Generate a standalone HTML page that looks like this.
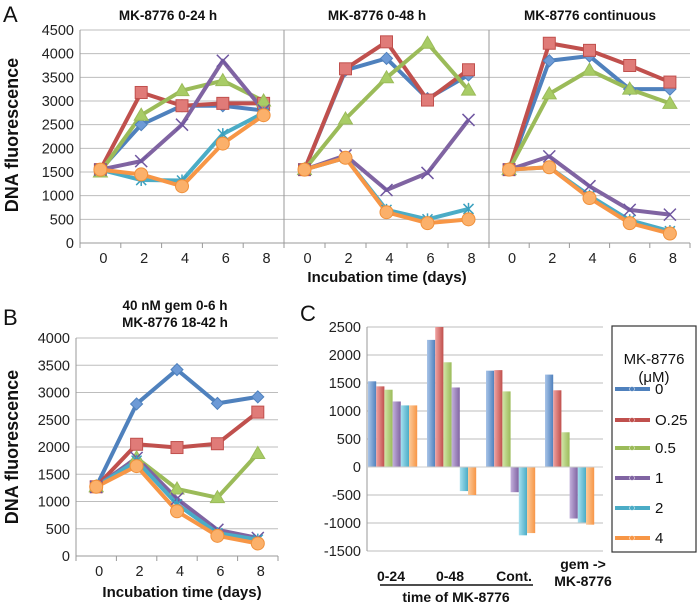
<!DOCTYPE html>
<html><head><meta charset="utf-8"><style>
body{margin:0;background:#fff}
svg{display:block;font-family:"Liberation Sans",sans-serif}
</style></head><body>
<svg id="fig" width="700" height="609" viewBox="0 0 700 609" xmlns="http://www.w3.org/2000/svg">
<defs>
<linearGradient id="g0" x1="0" x2="1"><stop offset="0" stop-color="#a9c4e8"/><stop offset="1" stop-color="#4f81bd"/></linearGradient>
<linearGradient id="g1" x1="0" x2="1"><stop offset="0" stop-color="#f0a3a1"/><stop offset="1" stop-color="#c0504d"/></linearGradient>
<linearGradient id="g2" x1="0" x2="1"><stop offset="0" stop-color="#d2e6a8"/><stop offset="1" stop-color="#9bbb59"/></linearGradient>
<linearGradient id="g3" x1="0" x2="1"><stop offset="0" stop-color="#c3b1dc"/><stop offset="1" stop-color="#8064a2"/></linearGradient>
<linearGradient id="g4" x1="0" x2="1"><stop offset="0" stop-color="#a5e0ef"/><stop offset="1" stop-color="#4bacc6"/></linearGradient>
<linearGradient id="g5" x1="0" x2="1"><stop offset="0" stop-color="#fbcb9c"/><stop offset="1" stop-color="#f79646"/></linearGradient>
</defs>
</svg>
<script>
const days=["0","2","4","6","8"];
const seriesNames=["0","O.25","0.5","1","2","4"];
// Panel A: 0-24 h
const a1_s0=[1550,2500,2900,2900,2800];
const a1_s1=[1550,3180,2900,2950,2950];
const a1_s2=[1500,2700,3220,3430,3000];
const a1_s3=[1550,1730,2500,3850,2800];
const a1_s4=[1550,1330,1320,2300,2750];
const a1_s5=[1550,1450,1200,2100,2700];
// Panel A: 0-48 h
const a2_s0=[1550,3650,3900,3050,3550];
const a2_s1=[1550,3680,4250,3020,3660];
const a2_s2=[1550,2620,3490,4220,3230];
const a2_s3=[1550,1850,1120,1480,2600];
const a2_s4=[1550,1800,700,500,720];
const a2_s5=[1550,1800,650,420,500];
// Panel A: continuous
const a3_s0=[1550,3850,3950,3250,3250];
const a3_s1=[1550,4220,4070,3750,3400];
const a3_s2=[1550,3150,3650,3250,2950];
const a3_s3=[1550,1830,1200,700,600];
const a3_s4=[1550,1600,1000,480,250];
const a3_s5=[1550,1600,950,420,200];
// Panel B
const b_s0=[1270,2790,3420,2800,2920];
const b_s1=[1270,2050,1990,2060,2640];
const b_s2=[1270,1800,1230,1070,1880];
const b_s3=[1270,1800,1050,480,330];
const b_s4=[1270,1750,950,420,300];
const b_s5=[1270,1650,820,370,230];
// Panel C
const cGroups=["0-24","0-48","Cont.","gem"];
const c_s0=[1530,2270,1720,1650];
const c_s1=[1440,2500,1730,1370];
const c_s2=[1380,1870,1350,620];
const c_s3=[1170,1420,-450,-920];
const c_s4=[1100,-430,-1220,-990];
const c_s5=[1100,-500,-1180,-1030];
const aTicks=[0,500,1000,1500,2000,2500,3000,3500,4000,4500];
const bTicks=[0,500,1000,1500,2000,2500,3000,3500,4000];
const cTicks=[-1500,-1000,-500,0,500,1000,1500,2000,2500];

const colors=["#4f81bd","#c0504d","#9bbb59","#8064a2","#4bacc6","#f79646"];
const NS="http://www.w3.org/2000/svg";
const svg=document.getElementById("fig");
function el(tag,attrs,parent){const e=document.createElementNS(NS,tag);for(const k in attrs)e.setAttribute(k,attrs[k]);(parent||svg).appendChild(e);return e;}
function txt(s,attrs,parent){const t=el("text",attrs,parent);t.textContent=s;return t;}

function marker(g,type,x,y,c){
  let m;
  if(type===0){m=el("path",{d:`M${x} ${y-6}L${x+6} ${y}L${x} ${y+6}L${x-6} ${y}Z`,fill:"#6d9ad6",stroke:c,"stroke-width":1},g);}
  else if(type===1){m=el("rect",{x:x-6,y:y-6,width:12,height:12,fill:"#e07b78",stroke:c,"stroke-width":1},g);}
  else if(type===2){m=el("path",{d:`M${x} ${y-7}L${x+7} ${y+5}L${x-7} ${y+5}Z`,fill:"#a8cc66",stroke:c,"stroke-width":1},g);}
  else if(type===3){m=el("path",{d:`M${x-6} ${y-6}L${x+6} ${y+6}M${x+6} ${y-6}L${x-6} ${y+6}`,stroke:"#6f56a0","stroke-width":1.5},g);}
  else if(type===4){m=el("path",{d:`M${x-5} ${y-5}L${x+5} ${y+5}M${x+5} ${y-5}L${x-5} ${y+5}M${x} ${y-6}L${x} ${y+6}`,stroke:"#3aa0bf","stroke-width":1.5},g);}
  else {m=el("circle",{cx:x,cy:y,r:6.5,fill:"#fbb06a",stroke:"#f0903a","stroke-width":1},g);}
  
  
}

function linePanel(name,x0,x1,yTop,yBot,vmax,series,ticks,showY){
  const g=el("g",{});
  
  
  const ys=v=>yBot-(v/vmax)*(yBot-yTop);
  const cw=(x1-x0)/days.length;
  const xs=i=>x0+cw*(i+0.5);
  for(const t of ticks){
    if(t===0)continue;
    const l=el("line",{x1:x0,x2:x1,y1:ys(t),y2:ys(t),stroke:"#bdbdbd","stroke-width":1},g);
    
    
  }
  el("line",{x1:x0,x2:x1,y1:yBot,y2:yBot,stroke:"#999","stroke-width":1},g);
  el("line",{x1:x0,x2:x0,y1:yTop,y2:yBot+5,stroke:"#999","stroke-width":1},g);
  for(let i=0;i<=days.length;i++){el("line",{x1:x0+cw*i,x2:x0+cw*i,y1:yBot,y2:yBot+5,stroke:"#999"},g);}
  if(showY){
    for(const t of ticks){
      const tl=txt(String(t),{x:x0-6,y:ys(t)+5,"text-anchor":"end","font-size":14.5,fill:"#222"},g);
      
      
    }
  }
  days.forEach((d,i)=>{
    const tl=txt(d,{x:xs(i)+3,y:yBot+20,"text-anchor":"middle","font-size":14.5,fill:"#222"},g);
    
    
  });
  series.forEach((s,k)=>{
    const p=el("polyline",{points:s.map((v,i)=>xs(i)+","+ys(v)).join(" "),fill:"none",stroke:colors[k],"stroke-width":4,"stroke-linejoin":"round"},g);
    
    
  });
  series.forEach((s,k)=>s.forEach((v,i)=>marker(g,k,xs(i),ys(v),colors[k])));
  return g;
}

// Panel A
const L1=txt("A",{x:3,y:22,"font-size":22,fill:"#111"});
linePanel("chart-a-0-24h",80,284,30,243,4500,[a1_s0,a1_s1,a1_s2,a1_s3,a1_s4,a1_s5],aTicks,true);
linePanel("chart-a-0-48h",284,489,30,243,4500,[a2_s0,a2_s1,a2_s2,a2_s3,a2_s4,a2_s5],aTicks,false);
linePanel("chart-a-continuous",489,690,30,243,4500,[a3_s0,a3_s1,a3_s2,a3_s3,a3_s4,a3_s5],aTicks,false);
[["MK-8776 0-24 h",168],["MK-8776 0-48 h",377],["MK-8776 continuous",590]].forEach(([s,x])=>{
  const t=txt(s,{x:x,y:20,"text-anchor":"middle","font-size":13.5,"font-weight":"bold",fill:"#111"});
  
});
let t=txt("Incubation time (days)",{x:387,y:282,"text-anchor":"middle","font-size":15,"font-weight":"bold",fill:"#111"});

t=txt("DNA fluorescence",{x:0,y:0,"text-anchor":"middle","font-size":18,"font-weight":"bold",fill:"#111",transform:"translate(18,135) rotate(-90)"});


// Panel B
t=txt("B",{x:3,y:325,"font-size":22,fill:"#111"});
linePanel("chart-b",76,278,338,556,4000,[b_s0,b_s1,b_s2,b_s3,b_s4,b_s5],bTicks,true);
t=txt("40 nM gem 0-6 h",{x:175,y:310,"text-anchor":"middle","font-size":13.5,"font-weight":"bold",fill:"#111"});
t=txt("MK-8776 18-42 h",{x:175,y:327,"text-anchor":"middle","font-size":13.5,"font-weight":"bold",fill:"#111"});
t=txt("Incubation time (days)",{x:182,y:597,"text-anchor":"middle","font-size":15,"font-weight":"bold",fill:"#111"});
t=txt("DNA fluorescence",{x:0,y:0,"text-anchor":"middle","font-size":18,"font-weight":"bold",fill:"#111",transform:"translate(18,447) rotate(-90)"});

// Panel C
t=txt("C",{x:300,y:321,"font-size":22,fill:"#111"});
(function(){
  const g=el("g",{});
  
  const x0=367,x1=603,yTop=327,yBot=551,vmin=-1500,vmax=2500;
  const ys=v=>yBot-(v-vmin)/(vmax-vmin)*(yBot-yTop);
  for(const tk of cTicks){
    const l=el("line",{x1:x0,x2:x1,y1:ys(tk),y2:ys(tk),stroke:"#bdbdbd"},g);
    
    const tl=txt(String(tk),{x:x0-6,y:ys(tk)+5,"text-anchor":"end","font-size":14.5,fill:"#222"},g);
    
  }
  el("line",{x1:x0,x2:x0,y1:yTop,y2:yBot,stroke:"#999"},g);
  const gw=(x1-x0)/cGroups.length, bw=8.2;
  const cs=[c_s0,c_s1,c_s2,c_s3,c_s4,c_s5];
  cs.forEach((s,k)=>s.forEach((v,i)=>{
    const bx=x0+1+gw*i+k*bw;
    const y0=ys(0),yv=ys(v);
    const r=el("rect",{x:bx,y:Math.min(y0,yv),width:bw,height:Math.abs(yv-y0),fill:"url(#g"+k+")"},g);
    
    
  }));
  el("line",{x1:x0,x2:x1,y1:ys(0),y2:ys(0),stroke:"#ccc"},g);
  const labs=[["0-24",391,581],["0-48",450,581],["Cont.",514,581],["gem ->",583,569],["MK-8776",583,586]];
  labs.forEach(([s,x,y])=>{const tl=txt(s,{x:x,y:y,"text-anchor":"middle","font-size":14,"font-weight":"bold",fill:"#111"},g);});
  el("line",{x1:380,x2:533,y1:585,y2:585,stroke:"#111","stroke-width":1.5},g);
  const tl=txt("time of MK-8776",{x:456,y:602,"text-anchor":"middle","font-size":14,"font-weight":"bold",fill:"#111"},g);
  
  // legend
  const lg=el("g",{},g);
  
  el("rect",{x:612,y:326,width:84,height:226,fill:"#fff",stroke:"#333","stroke-width":1.2},lg);
  txt("MK-8776",{x:654,y:364,"text-anchor":"middle","font-size":15,fill:"#111"},lg);
  txt("(\u03BCM)",{x:654,y:382,"text-anchor":"middle","font-size":15,fill:"#111"},lg);
  const ly=[389,420,448,478,508,538];
  seriesNames.forEach((s,k)=>{
    const e=el("g",{},lg);
    
    el("line",{x1:615,x2:650,y1:ly[k],y2:ly[k],stroke:colors[k],"stroke-width":4},e);
    el("circle",{cx:632,cy:ly[k],r:2.5,fill:colors[k],stroke:"#fff","stroke-width":0.5},e);
    txt(s,{x:655,y:ly[k]+5,"font-size":15,fill:"#111"},e);
  });
})();
</script>
</body></html>
